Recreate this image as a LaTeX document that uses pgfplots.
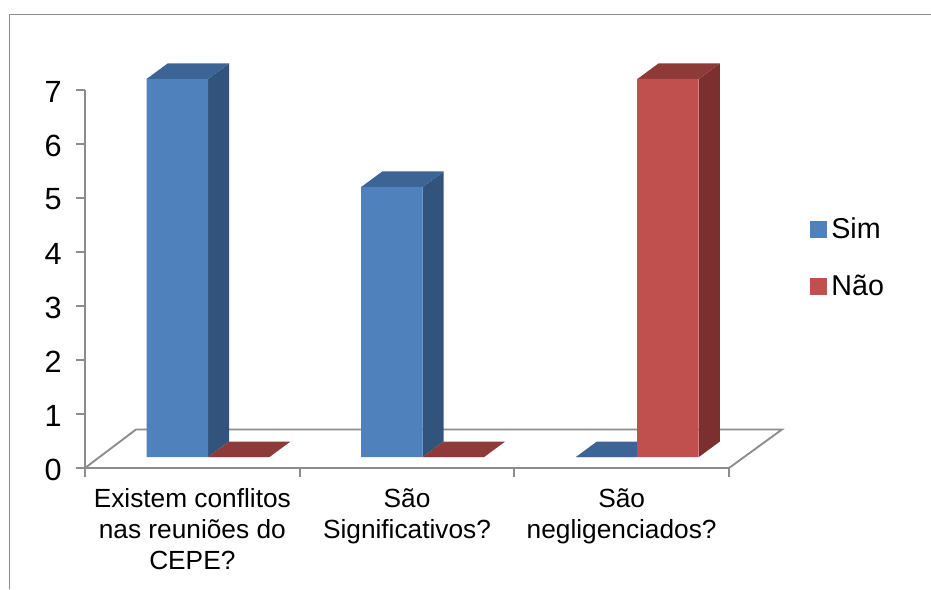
\documentclass[border=0pt]{standalone}
\usepackage{pgfplots}
\pgfplotsset{compat=1.18}
\usepackage{fontspec}
\setmainfont{Liberation Sans}
\definecolor{simfront}{HTML}{4F81BD}
\definecolor{simtop}{HTML}{3C6494}
\definecolor{simside}{HTML}{32547C}
\definecolor{naofront}{HTML}{C0504D}
\definecolor{naotop}{HTML}{8E3A38}
\definecolor{naoside}{HTML}{7B2F2E}
\definecolor{axisgray}{HTML}{8C8C8C}
\begin{document}
\begin{tikzpicture}
\path[use as bounding box] (-63.75pt,-90.75pt) rectangle (634.5pt,351pt);
\draw[axisgray,line width=1.4pt] (-56.6pt,-90.75pt) -- (-56.6pt,340.1pt) -- (634.5pt,340.1pt);
\begin{axis}[
  x=161pt,y=40.5pt,
  xmin=0,xmax=3,ymin=0,ymax=7,
  clip=false,
  axis lines=left,
  axis line style={-,axisgray,line width=1.4pt},
  tick style={axisgray,line width=1.3pt},
  tick align=outside,
  major tick length=6.5pt,
  minor tick length=6.5pt,
  xtick={0.5,1.5,2.5},
  minor xtick={0,1,2,3},
  major x tick style={draw=none},
  xticklabels={{Existem conflitos\\nas reuniões do\\CEPE?},{São\\Significativos?},{São\\negligenciados?}},
  x tick label style={align=center,font=\fontsize{19.7}{23.2}\selectfont,anchor=north,yshift=-5.5pt},
  ytick={0,1,2,3,4,5,6,7},
  y tick label style={font=\fontsize{23}{26}\selectfont,xshift=-7.5pt,yshift=-1.2pt},
  /pgf/number format/assume math mode=true,
  legend style={draw=none,fill=none,at={(axis cs:3.375,4.69)},anchor=north west,
    font=\fontsize{21.5}{25}\selectfont,row sep=22pt,inner sep=0pt,outer sep=0pt},
  legend cell align=left,
  every axis plot/.append style={forget plot},
]
% floor
\addplot[axisgray,line width=1.4pt,no markers] coordinates {(0,0)(0.2376,0.713)(3.2468,0.713)(3,0)};

% Sim
\addplot[fill=simside,draw=none,yshift=8.25pt] coordinates {(0.57325,0)(0.67105,0.287)(0.67105,7.287)(0.57325,7)} --cycle;
\addplot[fill=simtop,draw=none,yshift=8.25pt] coordinates {(0.28675,7)(0.38455,7.287)(0.67105,7.287)(0.57325,7)} --cycle;
\addplot[fill=simside,draw=none,yshift=8.25pt] coordinates {(1.57325,0)(1.67105,0.287)(1.67105,5.287)(1.57325,5)} --cycle;
\addplot[fill=simtop,draw=none,yshift=8.25pt] coordinates {(1.28675,5)(1.38455,5.287)(1.67105,5.287)(1.57325,5)} --cycle;
\addplot[fill=simtop,draw=none,yshift=8.25pt] coordinates {(2.28675,0)(2.38455,0.287)(2.67105,0.287)(2.57325,0)} --cycle;
\addplot[ybar,bar width=46.1pt,bar shift=0pt,fill=simfront,draw=none,yshift=8.25pt] coordinates {(0.43,7)(1.43,5)(2.43,0)};

% Nao
\addplot[fill=naotop,draw=none,yshift=8.25pt] coordinates {(0.57325,0)(0.67105,0.287)(0.95755,0.287)(0.85975,0)} --cycle;
\addplot[fill=naotop,draw=none,yshift=8.25pt] coordinates {(1.57325,0)(1.67105,0.287)(1.95755,0.287)(1.85975,0)} --cycle;
\addplot[fill=naoside,draw=none,yshift=8.25pt] coordinates {(2.85975,0)(2.95755,0.287)(2.95755,7.287)(2.85975,7)} --cycle;
\addplot[fill=naotop,draw=none,yshift=8.25pt] coordinates {(2.57325,7)(2.67105,7.287)(2.95755,7.287)(2.85975,7)} --cycle;
\addplot[ybar,bar width=46.1pt,bar shift=0pt,fill=naofront,draw=none,yshift=8.25pt] coordinates {(0.715,0)(1.715,0)(2.715,7)};

\addlegendimage{legend image code/.code={\fill[simfront] (0pt,-6pt) rectangle (12pt,6pt);}}
\addlegendentry{\hspace*{2pt}Sim}
\addlegendimage{legend image code/.code={\fill[naofront] (0pt,-6pt) rectangle (12pt,6pt);}}
\addlegendentry{\hspace*{2pt}Não}
\end{axis}
\end{tikzpicture}
\end{document}
